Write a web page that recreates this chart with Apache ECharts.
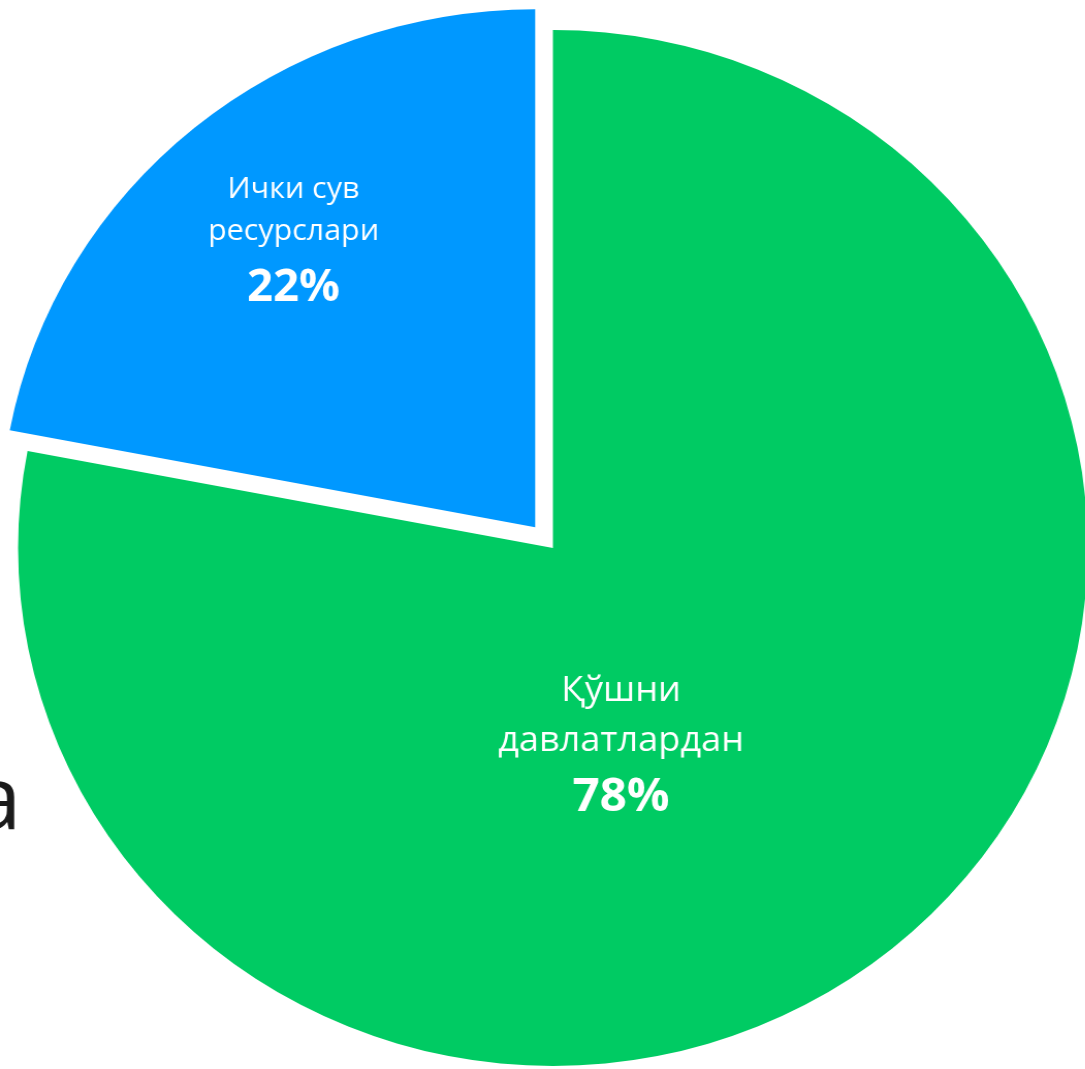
<!DOCTYPE html>
<html>
<head>
<meta charset="utf-8">
<script src="https://cdn.jsdelivr.net/npm/echarts@6/dist/echarts.min.js"></script>
<style>
html,body{margin:0;padding:0;background:#fff;overflow:hidden;}
#wrap{width:1085px;height:1069px;overflow:hidden;position:relative;}
#main{width:1051px;height:1069px;transform:scaleX(1.0325);transform-origin:0 0;}
</style>
</head>
<body>
<div id="wrap"><div id="main"></div></div>
<script>
const categories = ['Қўшни давлатлардан', 'Ички сув ресурслари'];
const nameLines = [['Қўшни', 'давлатлардан'], ['Ички сув', 'ресурслари']];
const values = [78, 22];
const colors = ['#00CB63', '#0098FF'];

const chart = echarts.init(document.getElementById('main'), null, {renderer: 'canvas'});

const labelStyles = [
  {n: 35, p: 46, lh: 50, plh: 64},
  {n: 29.5, p: 44, lh: 42, plh: 72}
];
const shifts = [[-101, -2], [-67, -79]];

const data = categories.map((c, i) => ({
  name: c,
  value: values[i],
  selected: i === 1,
  itemStyle: {color: colors[i]},
  label: {
    formatter: '{n|' + nameLines[i][0] + '}\n{n|' + nameLines[i][1] + '}\n{p|' + values[i] + '%}',
    rich: {
      n: {fontSize: labelStyles[i].n, lineHeight: labelStyles[i].lh, color: '#fff', fontFamily: 'Open Sans', align: 'center'},
      p: {fontSize: labelStyles[i].p, lineHeight: labelStyles[i].plh, color: '#fff', fontWeight: 'bold', fontFamily: 'Open Sans', align: 'center'}
    }
  }
}));

chart.setOption({
  animation: false,
  backgroundColor: '#fff',
  series: [{
    type: 'pie',
    center: [535.5, 548],
    radius: 518,
    startAngle: 90,
    clockwise: true,
    selectedMode: 'single',
    selectedOffset: 27,
    silent: true,
    label: {show: true, position: 'inside'},
    labelLine: {show: false},
    labelLayout: function (p) {
      return {dx: shifts[p.dataIndex][0], dy: shifts[p.dataIndex][1]};
    },
    data: data
  }],
  graphic: [{
    type: 'text',
    left: -28,
    top: 760,
    style: {text: 'а', fontSize: 88, fontFamily: 'Open Sans', fill: '#1a1a1a'}
  }]
});
</script>
</body>
</html>
